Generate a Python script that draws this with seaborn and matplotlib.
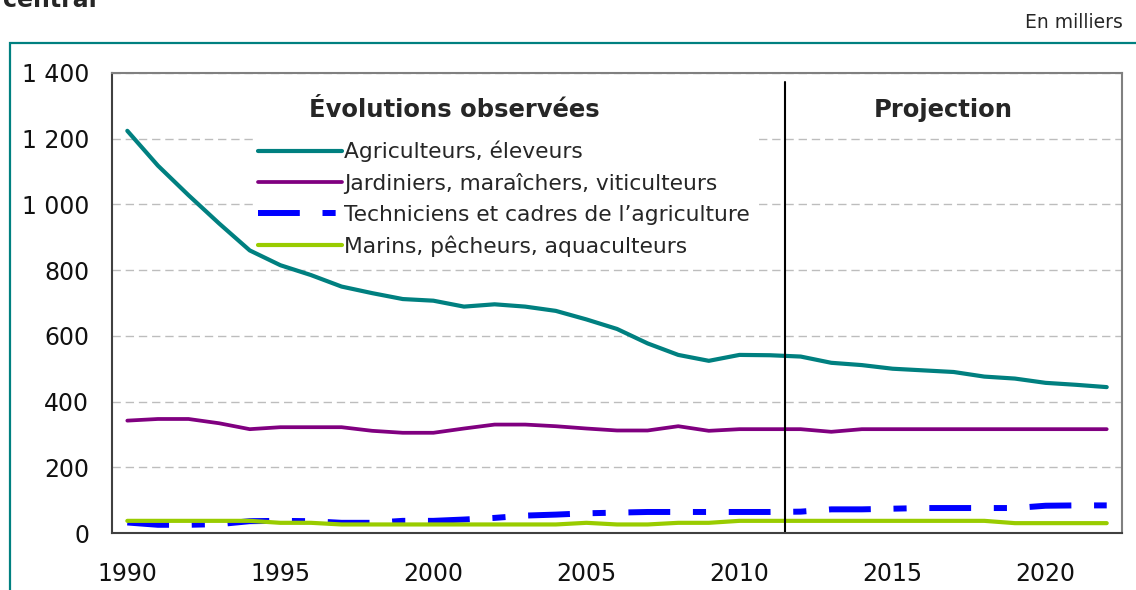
import pandas as pd
import matplotlib.pyplot as plt
import seaborn as sns
from matplotlib.patches import Rectangle
from matplotlib.ticker import FuncFormatter, MultipleLocator

# Données (en milliers)
annees = list(range(1990, 2023))
agriculteurs = [1224, 1118, 1028, 942, 860, 815, 785, 750, 730, 712,
                707, 689, 696, 689, 676, 650, 621, 577, 542, 524,
                542, 541, 537, 518, 511, 500, 495, 490, 476, 470,
                457, 451, 444]
jardiniers = [342, 347, 347, 334, 316, 322, 322, 322, 311, 305,
              305, 318, 330, 330, 325, 318, 312, 312, 325, 311,
              316, 316, 316, 308, 316, 316, 316, 316, 316, 316,
              316, 316, 316]
techniciens = [32, 25, 25, 27, 36, 37, 36, 31, 31, 37,
               37, 41, 46, 53, 56, 60, 62, 64, 64, 64,
               64, 64, 65, 72, 72, 74, 76, 76, 76, 76,
               83, 84, 84]
marins = [37, 37, 37, 37, 37, 31, 31, 26, 26, 26,
          26, 26, 26, 26, 26, 31, 26, 26, 31, 31,
          37, 37, 37, 37, 37, 37, 37, 37, 37, 30,
          30, 30, 30]

labels = ["Agriculteurs, éleveurs",
          "Jardiniers, maraîchers, viticulteurs",
          "Techniciens et cadres de l\u2019agriculture",
          "Marins, pêcheurs, aquaculteurs"]
annees_labels = [1990, 1995, 2000, 2005, 2010, 2015, 2020]
yticks = [0, 200, 400, 600, 800, 1000, 1200, 1400]

sns.set_style("white")
plt.rcParams['font.family'] = ['DejaVu Sans']

fig = plt.figure(figsize=(11.36, 5.90), dpi=100)
ax = fig.add_axes([0.0986, 0.0966, 0.8891, 0.7797])

# Séries
sns.lineplot(x=annees, y=agriculteurs, color='#008080', lw=3,
             label=labels[0], ax=ax, solid_joinstyle='round')
sns.lineplot(x=annees, y=jardiniers, color='#800080', lw=2.7,
             label=labels[1], ax=ax, solid_joinstyle='round')
sns.lineplot(x=annees, y=techniciens, color='#0000FF', lw=4.3,
             linestyle=(0, (7, 3.8, 2.2, 3.8)), dash_capstyle='butt',
             label=labels[2], ax=ax)
sns.lineplot(x=annees, y=marins, color='#99CC00', lw=3,
             label=labels[3], ax=ax, solid_joinstyle='round')

# Axes
ax.set_xlim(1989.5, 2022.5)
ax.set_ylim(0, 1400)
ax.set_yticks(yticks)
ax.yaxis.set_major_formatter(FuncFormatter(lambda v, p: f"{v:,.0f}".replace(",", " ")))
ax.set_xticks(annees_labels)
ax.xaxis.set_minor_locator(MultipleLocator(1, offset=0.5))
ax.tick_params(axis='x', which='major', length=0, pad=21, labelsize=17, colors='#111111')
ax.tick_params(axis='x', which='minor', length=5, width=1.2, color='#404040', direction='out')
ax.tick_params(axis='y', length=6.5, width=1.2, color='#404040', pad=10,
               labelsize=17, labelcolor='#111111', direction='out')
ax.set_xlabel('')
ax.set_ylabel('')

ax.grid(axis='y', color='#bdbdbd', lw=1, linestyle=(0, (6, 3.5)))
ax.set_axisbelow(True)
for s in ['left', 'bottom']:
    ax.spines[s].set_color('#404040')
    ax.spines[s].set_linewidth(1.5)
for s in ['top', 'right']:
    ax.spines[s].set_color('#808080')
    ax.spines[s].set_linewidth(1.5)

# Séparation observé / projection
ax.axvline(2011.5, ymin=0, ymax=0.98, color='black', lw=1.5)

ax.text(0.3386, 0.9196, "Évolutions observées", transform=ax.transAxes,
        ha='center', va='center', fontsize=17.5, fontweight='bold')
ax.text(0.8228, 0.9196, "Projection", transform=ax.transAxes,
        ha='center', va='center', fontsize=17.5, fontweight='bold')

leg = ax.legend(loc='upper left', bbox_to_anchor=(0.1405, 0.862),
                frameon=True, fancybox=False, edgecolor='none', framealpha=1,
                facecolor='white', fontsize=15.7, handlelength=3.85,
                handletextpad=0.1, labelspacing=0.49, borderpad=0.2,
                borderaxespad=0)
# la légende masque la grille mais pas les courbes
leg.set_zorder(1.8)

# Cadre et textes hors graphique
fig.add_artist(Rectangle((0.0084, -0.2), 1.2, 0.9271 + 0.2, transform=fig.transFigure,
                         fill=False, edgecolor='#008080', lw=1.6))
fig.text(0.9886, 1 - 28 / 590, "En milliers", ha='right', va='baseline', fontsize=13.5)
fig.text(0.003, 1 - 7 / 590, "central", ha='left', va='baseline', fontsize=17,
         fontweight='bold')

fig.savefig('out.png', dpi=100)
